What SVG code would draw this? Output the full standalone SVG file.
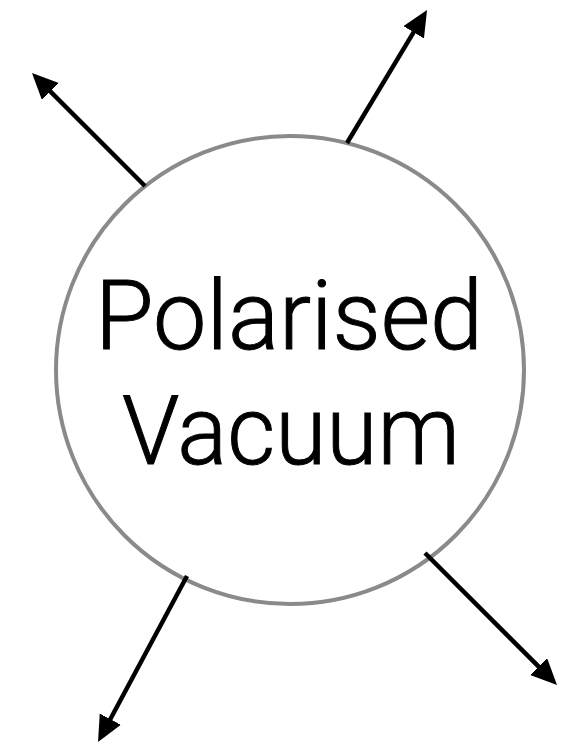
<svg xmlns="http://www.w3.org/2000/svg" width="567" height="744" viewBox="0 0 567 744">
<style>
.node{fill:#fff;stroke:#8a8a8d;stroke-width:4}
.lbl{font-family:Roboto,"Liberation Sans",sans-serif;font-weight:300;font-size:97px;fill:#000;stroke:#000;stroke-width:1;text-anchor:middle}
.conn{stroke:#000;stroke-width:4.5;fill:none;marker-end:url(#ah)}
</style>
<defs>
<marker id="ah" markerUnits="userSpaceOnUse" markerWidth="27" markerHeight="25" refX="10" refY="12" orient="auto" viewBox="0 0 27 25">
<path d="M0,0 L26,12 L0,24 z" fill="#000"/>
</marker>
</defs>
<rect width="567" height="744" fill="#fff"/>
<g id="vacuum">
<circle class="node" cx="290" cy="370" r="234"/>
<text class="lbl" x="289" y="349" textLength="388" lengthAdjust="spacingAndGlyphs">Polarised</text>
<text class="lbl" x="291" y="464" textLength="338" lengthAdjust="spacingAndGlyphs">Vacuum</text>
</g>
<g id="connectors">
<line class="conn" x1="145" y1="186" x2="43.3" y2="84.3"/>
<line class="conn" x1="347" y1="143" x2="418.8" y2="23.7"/>
<line class="conn" x1="187" y1="576" x2="105.6" y2="728"/>
<line class="conn" x1="425" y1="553" x2="545.7" y2="673.7"/>
</g>
</svg>
